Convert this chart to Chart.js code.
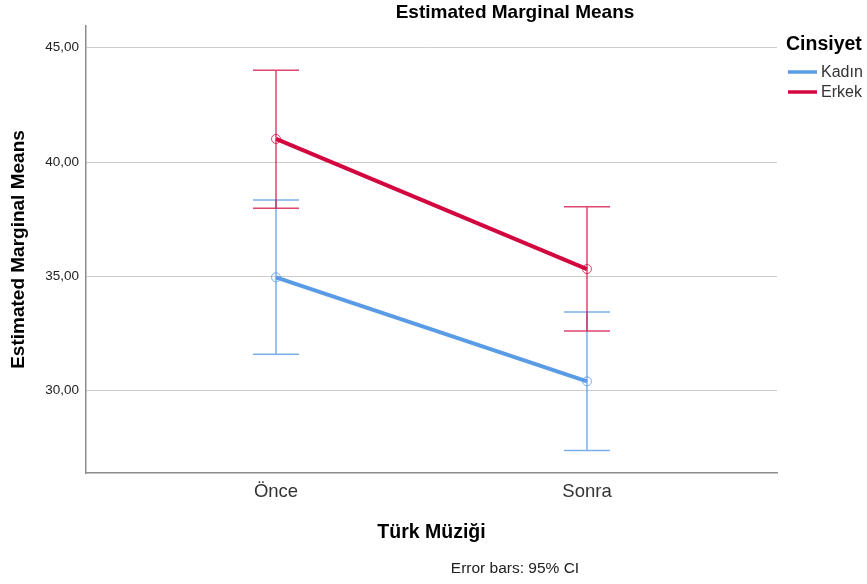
<html lang="tr">
<head>
    <meta charset="UTF-8">
    <title>Estimated Marginal Means</title>
    <script src="https://cdn.jsdelivr.net/npm/chart.js"></script>
    <style>
        body { margin: 0; background: #fff; }
    </style>
</head>
<body>

<canvas id="emmPlot" width="867" height="584"></canvas>

<script>

// data
const categories = ['Önce', 'Sonra'];
const groups = ['Kadın', 'Erkek'];

const kadinMeans = [34.96, 30.41];
const kadinLower = [31.59, 27.38];
const kadinUpper = [38.34, 33.44];

const erkekMeans = [41.01, 35.32];
const erkekLower = [37.98, 32.61];
const erkekUpper = [44.02, 38.05];

const yTicks = [30, 35, 40, 45];

const fontName = '"Liberation Sans", Arial, sans-serif';

const colors = {
    'Kadın': { line: '#5a9be6', bar: 'rgba(90,155,230,0.8)' },
    'Erkek': { line: '#d3073f', bar: 'rgba(211,7,63,0.75)' }
};

function makeSet(label, means, lower, upper) {
    return {
        label: label,
        data: means.map((m, i) => ({ x: i + 1, y: m, lo: lower[i], hi: upper[i] })),
        borderColor: colors[label].line,
        borderWidth: 4,
        pointRadius: 4.5,
        pointBorderWidth: 1,
        pointBorderColor: colors[label].bar,
        pointBackgroundColor: 'rgba(255,255,255,0)',
        errColor: colors[label].bar,
        showLine: true,
        tension: 0
    };
}

const datasets = [
    makeSet(groups[0], kadinMeans, kadinLower, kadinUpper),
    makeSet(groups[1], erkekMeans, erkekLower, erkekUpper)
];

// error bars drawn through the chart scales
const errorBars = {
    id: 'errorBars',
    beforeDatasetsDraw(chart) {
        const ctx = chart.ctx;
        const xs = chart.scales.x, ys = chart.scales.y;
        ctx.save();
        chart.data.datasets.forEach(ds => {
            ctx.strokeStyle = ds.errColor;
            ctx.lineWidth = 1.5;
            ds.data.forEach(p => {
                const x = xs.getPixelForValue(p.x);
                const yl = ys.getPixelForValue(p.lo);
                const yh = ys.getPixelForValue(p.hi);
                ctx.beginPath();
                ctx.moveTo(x, yl); ctx.lineTo(x, yh);
                ctx.moveTo(x - 23, yl); ctx.lineTo(x + 23, yl);
                ctx.moveTo(x - 23, yh); ctx.lineTo(x + 23, yh);
                ctx.stroke();
            });
        });
        ctx.restore();
    }
};

// title, legend and footnote like SPSS output
const texts = {
    id: 'texts',
    afterDraw(chart) {
        const ctx = chart.ctx;
        ctx.save();
        ctx.fillStyle = '#000';
        ctx.textAlign = 'center';
        ctx.textBaseline = 'middle';
        ctx.font = 'bold 19px ' + fontName;
        ctx.fillText('Estimated Marginal Means', 515, 13);

        ctx.font = '15.5px ' + fontName;
        ctx.fillStyle = '#222';
        ctx.fillText('Error bars: 95% CI', 515, 569);

        ctx.textAlign = 'left';
        ctx.fillStyle = '#000';
        ctx.font = 'bold 19.5px ' + fontName;
        ctx.fillText('Cinsiyet', 786, 45);

        ctx.font = '16px ' + fontName;
        chart.data.datasets.forEach((ds, i) => {
            const y = 72 + i * 20;
            ctx.strokeStyle = ds.borderColor;
            ctx.lineWidth = 3.5;
            ctx.beginPath();
            ctx.moveTo(788, y); ctx.lineTo(817, y);
            ctx.stroke();
            ctx.fillStyle = '#333';
            ctx.fillText(ds.label, 821, y + 1);
        });
        ctx.restore();
    }
};

const ctx = document.getElementById('emmPlot').getContext('2d');
new Chart(ctx, {
    type: 'scatter',
    data: { datasets: datasets },
    options: {
        responsive: false,
        animation: false,
        layout: { padding: { top: 26, right: 90, left: 0, bottom: 0 } },
        plugins: {
            legend: { display: false },
            tooltip: { enabled: false },
            title: { display: false }
        },
        scales: {
            x: {
                type: 'linear',
                min: 0.389,
                max: 2.611,
                afterBuildTicks: s => { s.ticks = categories.map((c, i) => ({ value: i + 1 })); },
                afterFit: s => { s.height = 111; },
                grid: { display: false, drawTicks: false },
                border: { color: '#8c8c8c', width: 1.5 },
                ticks: {
                    padding: 8,
                    color: '#333',
                    font: { family: fontName, size: 18.5 },
                    callback: v => categories[v - 1]
                },
                title: {
                    display: true,
                    text: 'Türk Müziği',
                    color: '#000',
                    font: { family: fontName, size: 19.5, weight: 'bold' },
                    padding: { bottom: 40 }
                }
            },
            y: {
                min: 26.4,
                max: 45.95,
                afterBuildTicks: s => { s.ticks = yTicks.map(v => ({ value: v })); },
                afterFit: s => { s.width = 86; },
                grid: { color: '#cccccc', lineWidth: 1, drawTicks: false },
                border: { color: '#8c8c8c', width: 1.5 },
                ticks: {
                    padding: 7,
                    color: '#222',
                    font: { family: fontName, size: 13.5 },
                    callback: v => v.toFixed(2).replace('.', ',')
                },
                title: {
                    display: true,
                    text: 'Estimated Marginal Means',
                    color: '#000',
                    font: { family: fontName, size: 19, weight: 'bold' },
                    padding: { top: 7 }
                }
            }
        }
    },
    plugins: [errorBars, texts]
});

</script>

</body>
</html>
